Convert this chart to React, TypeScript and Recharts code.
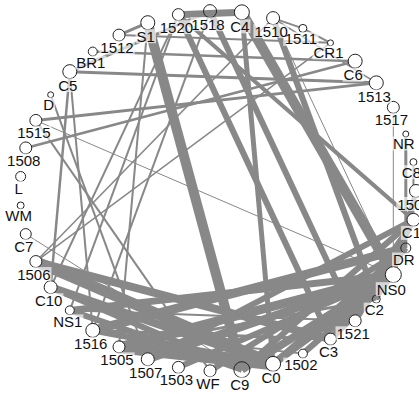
import React from 'react';
import { ScatterChart, Scatter, XAxis, YAxis } from 'recharts';

// nodes in clockwise order, starting at the top-left (S1)
const nodeNames = [
  'S1', '1520', '1518', 'C4', '1510', '1511', 'CR1', 'C6', '1513', '1517',
  'NR', 'C8', '1501', 'C1', 'DR', 'NS0', 'C2', '1521', 'C3', '1502',
  'C0', 'C9', 'WF', '1503', '1507', '1505', '1516', 'NS1', 'C10', '1506',
  'C7', 'WM', 'L', '1508', '1515', 'D', 'C5', 'BR1', '1512',
];

// node weight (drawn as the circle radius)
const nodeWeight = [
  7, 6, 6.5, 7.5, 6.5, 4, 3, 7, 7, 6,
  3, 3.5, 6.5, 6.5, 5, 8, 4, 6, 6, 4.5,
  7.5, 8, 6, 6, 6.5, 6, 7, 4.5, 6.5, 6,
  5.5, 3.5, 5, 6, 6, 3, 7, 4.5, 6,
];

// links: [from, to, weight]
const links: [string, string, number][] = [
  ['S1', 'C9', 10],
  ['C4', 'NS0', 10],
  ['1510', 'C2', 6],
  ['1520', 'C3', 6],
  ['1518', '1521', 6],
  ['C4', 'C0', 5],
  ['1520', 'C1', 4],
  ['1520', 'C4', 7],
  ['S1', '1512', 3],
  ['1510', '1511', 2],
  ['1511', 'CR1', 2],
  ['1510', '1513', 1.5],
  ['1510', 'NS0', 1],
  ['1512', 'CR1', 2],
  ['BR1', 'C6', 2.5],
  ['C5', '1513', 3],
  ['1518', 'C5', 3],
  ['1515', '1513', 3],
  ['1508', 'C6', 2.5],
  ['1515', 'NS0', 1],
  ['1515', 'WF', 2],
  ['D', '1507', 2],
  ['C5', 'C10', 2.5],
  ['C5', '1516', 2],
  ['S1', '1505', 2],
  ['1520', 'NS1', 2],
  ['1520', 'C10', 2],
  ['1518', '1516', 2],
  ['1510', '1506', 1.5],
  ['CR1', '1506', 1.5],
  ['C7', 'C9', 1],
  ['1517', 'NS0', 1],
  ['NR', 'DR', 3],
  ['C8', 'C1', 2],
  ['1506', 'C0', 11],
  ['1506', 'C3', 8],
  ['C10', 'C0', 8],
  ['C10', 'C9', 6],
  ['NS1', 'C9', 6],
  ['NS1', 'NS0', 7],
  ['1516', 'DR', 9],
  ['1516', 'C0', 6],
  ['1516', 'C3', 3],
  ['1516', '1502', 2],
  ['NS1', '1521', 2],
  ['1505', 'C0', 13],
  ['1505', 'NS0', 9],
  ['1505', 'C2', 3],
  ['1507', 'NS0', 8],
  ['1507', 'C1', 6],
  ['1503', 'NS0', 6],
  ['WF', 'DR', 6],
  ['C9', 'NS0', 8],
  ['C9', 'C1', 6],
  ['C0', 'NS0', 8],
  ['C0', 'DR', 6],
  ['1502', 'NS0', 6],
  ['C3', 'NS0', 7],
  ['1521', 'C1', 6],
  ['C2', 'NS0', 4],
  ['1501', 'NS0', 5],
  ['C3', 'C1', 4],
  ['1521', 'DR', 5],
  ['C2', 'C1', 5],
];

const W = 419;
const H = 394;
const EDGE = '#888888';
const FS = 15;
const hollow = new Set(['1518', 'C9', 'DR', 'C2']);

// circular layout: 1501 sits at angle 0, the rest go clockwise
const step = (2 * Math.PI) / nodeNames.length;
const nodes = nodeNames.map((name, i) => {
  const a = (12 - i) * step;
  return { name, x: Math.cos(a), y: Math.sin(a), r: nodeWeight[i] };
});
const byName: Record<string, any> = {};
nodes.forEach((n) => (byName[n.name] = n));

const charW = (c: string) => {
  if (/[0-9]/.test(c)) return 0.556;
  if (c === 'W') return 0.944;
  if (c === 'M') return 0.833;
  if (c === 'L') return 0.556;
  if (c === 'F') return 0.611;
  if (c === 'S' || c === 'B') return 0.667;
  return 0.722;
};

const labelPos = (cx: number, cy: number, r: number) => ({ lx: cx - 2, ly: cy + r + 6.5 });

const NodeDot = (props: any) => {
  const { cx, cy, payload } = props;
  if (cx == null || cy == null) return <g />;
  return (
    <circle
      cx={cx}
      cy={cy}
      r={payload.r}
      fill="#fff"
      fillOpacity={hollow.has(payload.name) ? 0 : 1}
      stroke="#222"
      strokeWidth={1}
    />
  );
};

// pale box behind each label
const LabelBox = (props: any) => {
  const { cx, cy, payload } = props;
  if (cx == null || cy == null) return <g />;
  const tw = payload.name.split('').reduce((s: number, c: string) => s + charW(c) * FS, 0);
  const { lx, ly } = labelPos(cx, cy, payload.r);
  return <rect x={lx - tw / 2 - 1} y={ly - 7} width={tw + 2} height={14} fill="#fff" fillOpacity={0.65} />;
};

const LabelText = (props: any) => {
  const { cx, cy, payload } = props;
  if (cx == null || cy == null) return <g />;
  const { lx, ly } = labelPos(cx, cy, payload.r);
  return (
    <text
      x={lx}
      y={ly}
      textAnchor="middle"
      dominantBaseline="central"
      fontSize={FS}
      fontFamily="'Liberation Sans', Arial, sans-serif"
      fill="#111"
    >
      {payload.name}
    </text>
  );
};

const NoDot = () => <g />;

export default function App() {
  return (
    <div style={{ position: 'absolute', left: 0, top: 0, width: W, height: H, background: '#fff' }}>
      <ScatterChart width={W} height={H} margin={{ top: 0, right: 0, bottom: 0, left: 0 }}>
        <XAxis type="number" dataKey="x" hide domain={[-218 / 198, (W - 218) / 198]} allowDataOverflow />
        <YAxis type="number" dataKey="y" hide domain={[(191 - H) / 180, 191 / 180]} allowDataOverflow />
        {links.map(([a, b, w], i) => (
          <Scatter
            key={'l' + i}
            data={[byName[a], byName[b]]}
            fill={EDGE}
            line={{ stroke: EDGE, strokeWidth: w }}
            lineType="joint"
            shape={NoDot}
            isAnimationActive={false}
          />
        ))}
        <Scatter data={nodes} shape={NodeDot} isAnimationActive={false} />
        <Scatter data={nodes} shape={LabelBox} isAnimationActive={false} />
        <Scatter data={nodes} shape={LabelText} isAnimationActive={false} />
      </ScatterChart>
    </div>
  );
}
